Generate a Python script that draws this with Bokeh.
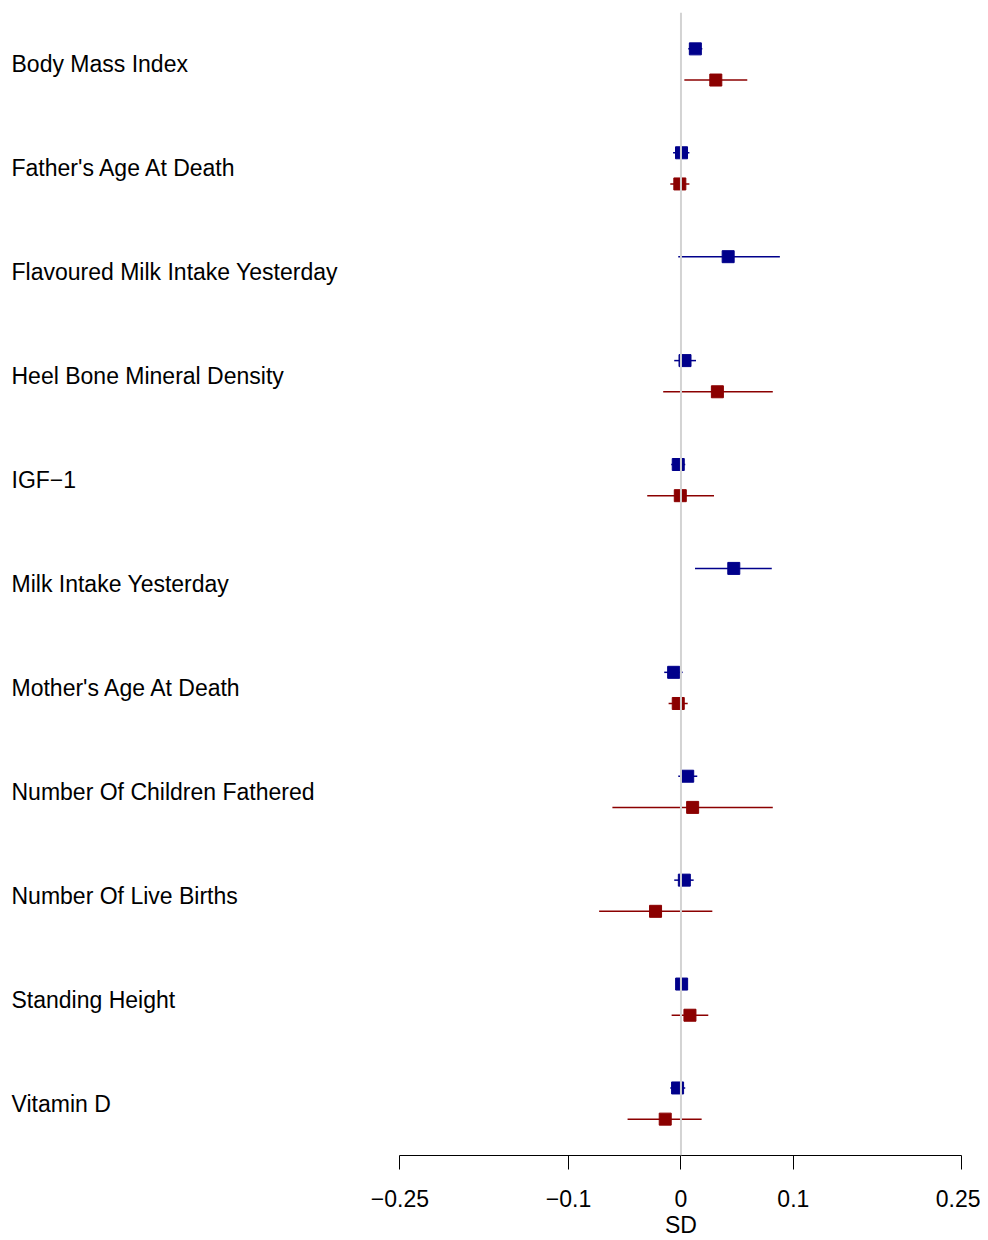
from bokeh.plotting import figure
from bokeh.models import ColumnDataSource, Span, FixedTicker, Range1d, LinearAxis
from bokeh.embed import file_html
from bokeh.resources import INLINE

# Datos del forest plot (SD)
traits = [
    "Body Mass Index",
    "Father's Age At Death",
    "Flavoured Milk Intake Yesterday",
    "Heel Bone Mineral Density",
    "IGF\u22121",
    "Milk Intake Yesterday",
    "Mother's Age At Death",
    "Number Of Children Fathered",
    "Number Of Live Births",
    "Standing Height",
    "Vitamin D",
]
nan = float("nan")

blue_est = [0.0128, 0.0005, 0.042, 0.0036, -0.0024, 0.047, -0.0065, 0.006, 0.003, 0.0006, -0.003]
blue_lo = [0.0065, -0.007, -0.0024, -0.006, -0.0087, 0.0125, -0.0149, -0.0024, -0.006, -0.003, -0.0095]
blue_hi = [0.019, 0.0075, 0.088, 0.0134, 0.0038, 0.0808, 0.0015, 0.0145, 0.0113, 0.004, 0.0038]

red_est = [0.031, -0.001, nan, 0.0324, -0.0006, nan, -0.0024, 0.0104, -0.0226, 0.008, -0.014]
red_lo = [0.003, -0.0095, nan, -0.0158, -0.030, nan, -0.011, -0.061, -0.0728, -0.0083, -0.0475]
red_hi = [0.059, 0.0075, nan, 0.0817, 0.0294, nan, 0.006, 0.0817, 0.0279, 0.0243, 0.0184]

tick_values = [-0.25, -0.1, 0, 0.1, 0.25]
tick_labels = ["\u22120.25", "\u22120.1", "0", "0.1", "0.25"]
x_title = "SD"

FONT = "Liberation Sans"
BLUE = "#00008B"
RED = "#8B0000"

rows = [len(traits) - 1 - i for i in range(len(traits))]
offset = 0.15

blue_src = ColumnDataSource(dict(y=[r + offset for r in rows], est=blue_est, lo=blue_lo, hi=blue_hi))
red_src = ColumnDataSource(dict(y=[r - offset for r in rows], est=red_est, lo=red_lo, hi=red_hi))

x_start = -0.6054
lab_src = ColumnDataSource(dict(x=[x_start + 0.0098] * len(rows), y=rows, text=traits))

p = figure(width=980, height=1240, output_backend="svg", toolbar_location=None,
           x_range=Range1d(x_start, 0.2576), y_range=Range1d(-0.5, 10.5),
           y_axis_location=None, min_border_left=0, min_border_right=10,
           min_border_top=12, min_border_bottom=0)
p.outline_line_color = None
p.grid.visible = False

p.add_layout(Span(location=0, dimension="height", line_color="#D3D3D3", line_width=2))

p.segment(x0="lo", x1="hi", y0="y", y1="y", source=blue_src, line_color=BLUE, line_width=1.5)
p.scatter(x="est", y="y", source=blue_src, marker="square", size=12, fill_color=BLUE, line_color=BLUE)
p.segment(x0="lo", x1="hi", y0="y", y1="y", source=red_src, line_color=RED, line_width=1.5)
p.scatter(x="est", y="y", source=red_src, marker="square", size=12, fill_color=RED, line_color=RED)

p.text(x="x", y="y", text="text", source=lab_src, text_align="left",
       text_baseline="middle", text_font={"value": FONT}, text_font_size="23px", text_color="black")

ax = p.xaxis[0]
ax.ticker = FixedTicker(ticks=tick_values)
ax.major_label_overrides = {v: t for v, t in zip(tick_values, tick_labels)}
ax.bounds = (-0.25, 0.25)
ax.minor_tick_line_color = None
ax.major_tick_in = 0
ax.major_tick_out = 14
ax.axis_line_color = "black"
ax.major_tick_line_color = "black"
ax.major_label_text_font = FONT
ax.major_label_text_font_size = "23px"
ax.major_label_text_color = "black"
ax.major_label_standoff = 20

# segundo eje solo para el título "SD", centrado bajo el 0
ax2 = LinearAxis(ticker=FixedTicker(ticks=[0]), major_label_overrides={0: x_title},
                 axis_line_color=None, major_tick_line_color=None, minor_tick_line_color=None,
                 major_tick_in=0, major_tick_out=0, major_label_standoff=2,
                 major_label_text_font=FONT, major_label_text_font_size="23px",
                 major_label_text_color="black")
p.add_layout(ax2, "below")

open("out.html", "w").write(file_html(p, INLINE))
